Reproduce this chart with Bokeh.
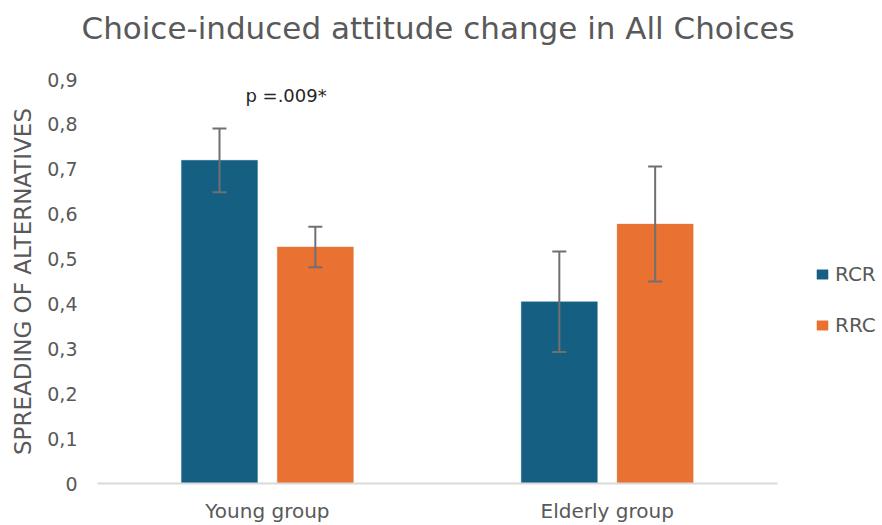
from bokeh.plotting import figure
from bokeh.models import (ColumnDataSource, Range1d, Whisker, Legend, LegendItem,
                          FixedTicker, CustomJSTickFormatter, Title)
from bokeh.transform import dodge
from bokeh.core.properties import value
from bokeh.embed import file_html
from bokeh.resources import INLINE

groups = ["Young group", "Elderly group"]
series = ["RCR", "RRC"]
rcr_values = [0.72, 0.405]
rrc_values = [0.527, 0.578]
rcr_errors = [0.071, 0.112]
rrc_errors = [0.045, 0.128]
y_ticks = [0, 0.1, 0.2, 0.3, 0.4, 0.5, 0.6, 0.7, 0.8, 0.9]
colors = {"RCR": "#156082", "RRC": "#E97132"}
title_text = "Choice-induced attitude change in All Choices"
annotation_text = "p =.009*"
annotation_group = "Young group"
annotation_y = 0.864

FONT = "DejaVu Sans"
GRAY = "#595959"

positions = [i + 0.5 for i in range(len(groups))]
src = ColumnDataSource(dict(
    x=positions,
    rcr=rcr_values, rrc=rrc_values,
    rcr_up=[v + e for v, e in zip(rcr_values, rcr_errors)],
    rcr_lo=[v - e for v, e in zip(rcr_values, rcr_errors)],
    rrc_up=[v + e for v, e in zip(rrc_values, rrc_errors)],
    rrc_lo=[v - e for v, e in zip(rrc_values, rrc_errors)],
))

p = figure(width=882, height=525, output_backend="svg", toolbar_location=None, title=None,
           x_range=Range1d(0, 2.31), y_range=Range1d(0, 0.9),
           min_border_left=97, min_border_right=0, min_border_top=79, min_border_bottom=41)
p.outline_line_color = None
p.xgrid.visible = False
p.ygrid.visible = False

# spacer title (closest to the frame), then the real title above it
p.add_layout(Title(text=" ", text_font=FONT, text_font_size="20px", standoff=8), "above")
p.add_layout(Title(text=title_text, text_font=FONT, text_font_size="31px",
                   text_font_style="normal", text_color=GRAY, align="left",
                   offset=-16, standoff=0), "above")

off = 0.141
bw = 0.224
r1 = p.vbar(x=dodge("x", -off), top="rcr", width=bw, source=src,
            fill_color=colors["RCR"], line_color=colors["RCR"], line_alpha=0.3)
r2 = p.vbar(x=dodge("x", off), top="rrc", width=bw, source=src,
            fill_color=colors["RRC"], line_color=colors["RRC"], line_alpha=0.3)

for base, up, lo in [(-off, "rcr_up", "rcr_lo"), (off, "rrc_up", "rrc_lo")]:
    w = Whisker(base=dodge("x", base), upper=up, lower=lo, source=src,
                line_color="#707070", line_width=2, level="annotation")
    for h in (w.upper_head, w.lower_head):
        h.size = 14
        h.line_color = "#707070"
        h.line_width = 2
    p.add_layout(w)

p.text(x=[positions[groups.index(annotation_group)]], y=[annotation_y], text=[annotation_text],
       text_font=value(FONT), text_font_size="18px", text_color="#262626",
       text_align="left", text_baseline="middle", x_offset=-22)

# y axis
p.yaxis.ticker = FixedTicker(ticks=y_ticks)
p.yaxis.formatter = CustomJSTickFormatter(
    code="return tick === 0 ? '0' : tick.toFixed(1).replace('.', ',');")
p.yaxis.axis_line_color = None
p.yaxis.major_tick_line_color = None
p.yaxis.minor_tick_line_color = None
p.yaxis.major_label_text_font = FONT
p.yaxis.major_label_text_font_size = "19px"
p.yaxis.major_label_text_color = GRAY
p.yaxis.major_label_standoff = 14
p.yaxis.axis_label = "SPREADING OF ALTERNATIVES"
p.yaxis.axis_label_text_font = FONT
p.yaxis.axis_label_text_font_size = "23px"
p.yaxis.axis_label_text_font_style = "normal"
p.yaxis.axis_label_text_color = GRAY
p.yaxis.axis_label_standoff = 8

# x axis (categorical labels at group centres)
p.xaxis.ticker = FixedTicker(ticks=positions)
p.xaxis.formatter = CustomJSTickFormatter(args=dict(labels=groups),
                                          code="return labels[Math.floor(tick)];")
p.xaxis.bounds = (0, len(groups))
p.xaxis.axis_line_color = "#d9d9d9"
p.xaxis.axis_line_width = 2
p.xaxis.major_tick_line_color = None
p.xaxis.minor_tick_line_color = None
p.xaxis.major_label_text_font = FONT
p.xaxis.major_label_text_font_size = "20px"
p.xaxis.major_label_text_color = GRAY
p.xaxis.major_label_standoff = 9

legend = Legend(items=[LegendItem(label=series[0], renderers=[r1]),
                       LegendItem(label=series[1], renderers=[r2])],
                location=(718, 146), orientation="vertical",
                border_line_alpha=0, background_fill_alpha=0,
                label_text_font=FONT, label_text_font_size="20px", label_text_color=GRAY,
                glyph_width=14, glyph_height=12, label_height=24, spacing=27,
                padding=0, margin=0, label_standoff=6)
p.add_layout(legend, "center")

open("out.html", "w").write(file_html(p, INLINE))
